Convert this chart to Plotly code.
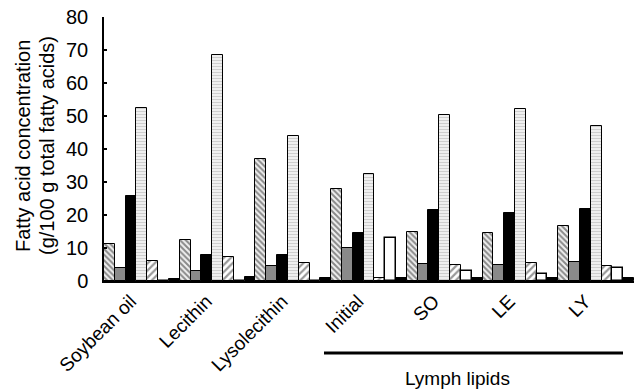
import plotly.graph_objects as go

categories = ["Soybean oil", "Lecithin", "Lysolecithin", "Initial", "SO", "LE", "LY"]

s1_back_hatch = [11.2, 12.5, 37.0, 28.0, 14.9, 14.5, 16.6]
s2_gray = [3.8, 3.0, 4.5, 10.1, 5.2, 4.8, 5.8]
s3_black = [25.8, 8.0, 8.0, 14.5, 21.5, 20.7, 21.7]
s4_hlines = [52.4, 68.5, 44.0, 32.3, 50.3, 52.0, 47.0]
s5_fwd_hatch = [6.0, 7.3, 5.6, 1.0, 4.8, 5.4, 4.6]
s6_white = [0.0, 0.0, 0.0, 12.9, 3.0, 2.2, 4.0]
s7_black_small = [0.6, 1.2, 1.0, 1.0, 1.0, 1.0, 1.0]

y_ticks = [0, 10, 20, 30, 40, 50, 60, 70, 80]

FONT = "Liberation Sans, Arial, sans-serif"
line = dict(color="black", width=1)

fig = go.Figure()
fig.add_bar(x=categories, y=s1_back_hatch, name="s1",
            marker=dict(color="white", line=line,
                        pattern=dict(shape="\\", fgcolor="#222", bgcolor="#f0f0f0", size=4, solidity=0.5)))
fig.add_bar(x=categories, y=s2_gray, name="s2",
            marker=dict(color="#8a8a8a", line=line))
fig.add_bar(x=categories, y=s3_black, name="s3",
            marker=dict(color="black", line=line))
fig.add_bar(x=categories, y=s4_hlines, name="s4",
            marker=dict(color="white", line=line,
                        pattern=dict(shape="-", fgcolor="#aaaaaa", bgcolor="#f2f2f2", size=3, solidity=0.4)))
fig.add_bar(x=categories, y=s5_fwd_hatch, name="s5",
            marker=dict(color="white", line=line,
                        pattern=dict(shape="/", fgcolor="#333", bgcolor="white", size=5, solidity=0.45)))
fig.add_bar(x=categories, y=s6_white, name="s6",
            marker=dict(color="white", line=dict(color="black", width=1.5)))
fig.add_bar(x=categories, y=s7_black_small, name="s7",
            marker=dict(color="black", line=line))

fig.update_layout(
    width=634, height=392,
    margin=dict(l=104, r=0, t=17, b=111),
    paper_bgcolor="white", plot_bgcolor="white",
    barmode="group", bargap=0, bargroupgap=0,
    showlegend=False,
    font=dict(family=FONT, color="black"),
)
fig.update_yaxes(
    range=[0, 80], tickvals=y_ticks, ticks="inside", ticklen=3, tickwidth=1.5,
    tickcolor="black", showline=True, linecolor="black", linewidth=1.5,
    showgrid=False, zeroline=False, tickfont=dict(size=20, family=FONT),
    ticklabelstandoff=10,
)
fig.update_xaxes(
    showline=True, linecolor="black", linewidth=1.5, ticks="", showgrid=False,
    tickangle=-45, tickfont=dict(size=19, family=FONT), ticklabelshift=-11,
)

# y-axis title (two lines)
fig.add_annotation(text="Fatty acid concentration", xref="paper", yref="paper",
                   x=(23 - 104) / 530, y=(281 - 146) / 264, textangle=-90,
                   showarrow=False, font=dict(size=20, family=FONT),
                   xanchor="center", yanchor="middle")
fig.add_annotation(text="(g/100 g total fatty acids)", xref="paper", yref="paper",
                   x=(47 - 104) / 530, y=(281 - 146) / 264, textangle=-90,
                   showarrow=False, font=dict(size=20, family=FONT),
                   xanchor="center", yanchor="middle")
# Lymph lipids bracket line and label
fig.add_shape(type="line", xref="paper", yref="paper",
              x0=(324 - 104) / 530, x1=(623 - 104) / 530,
              y0=(281 - 353) / 264, y1=(281 - 353) / 264,
              line=dict(color="black", width=3))
fig.add_annotation(text="Lymph lipids", xref="paper", yref="paper",
                   x=(457 - 104) / 530, y=(281 - 378) / 264, showarrow=False,
                   font=dict(size=19, family=FONT), xanchor="center", yanchor="middle")

fig.write_html("out.html")
